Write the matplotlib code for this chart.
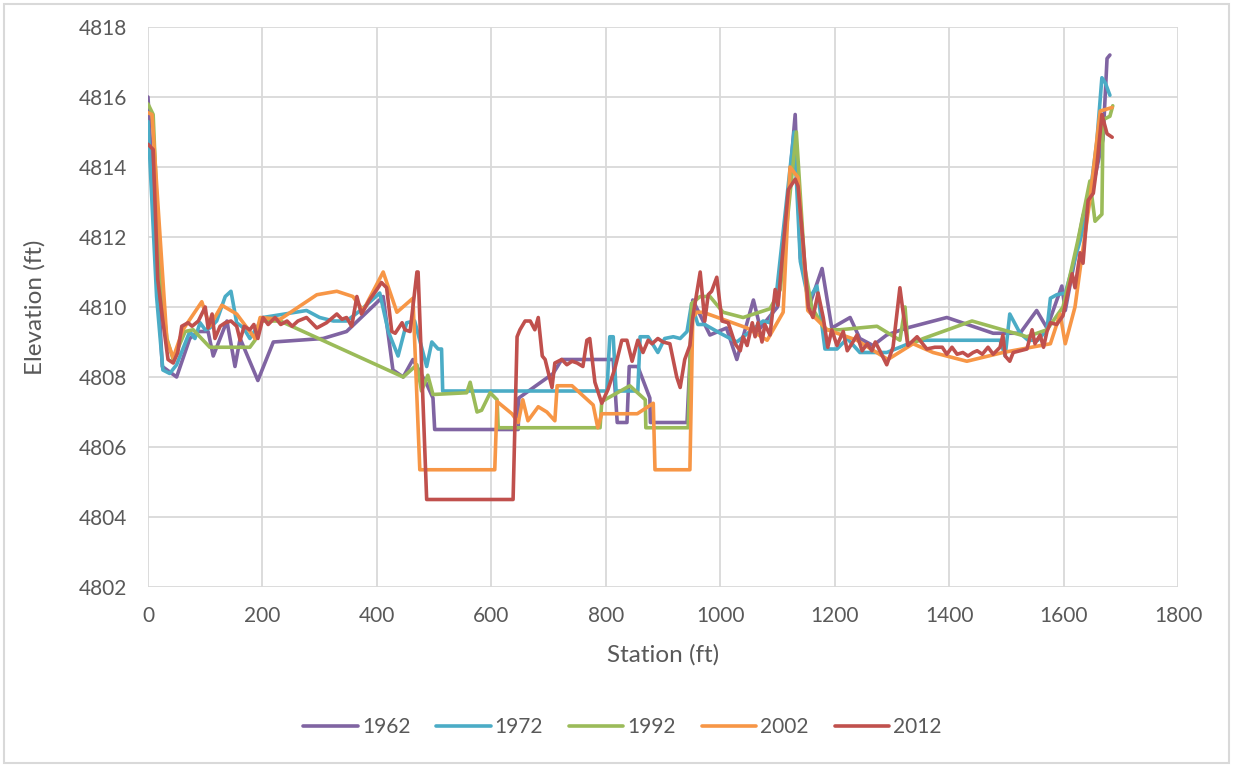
import matplotlib
matplotlib.use("Agg")
import matplotlib.pyplot as plt
from matplotlib.patches import Rectangle

plt.rcParams['font.family'] = ['Lato', 'DejaVu Sans']

# Cross-section surveys: station (ft) and elevation (ft) per survey year
st_1962 = [0, 25, 50, 73, 88, 105, 114, 138, 152, 161, 192, 219, 306, 347, 411, 428, 446, 463,
           487, 498, 501, 647, 648, 708, 723, 813, 820, 837, 841, 856, 877, 878, 942, 952, 982,
           1011, 1029, 1058, 1070, 1100, 1118, 1131, 1140, 1157, 1178, 1195, 1227, 1244, 1267,
           1291, 1326, 1396, 1477, 1524, 1553, 1571, 1597, 1603, 1634, 1652, 1669, 1676, 1681]
el_1962 = [4816.0, 4808.3, 4808.0, 4809.1, 4809.3, 4809.3, 4808.6, 4809.6, 4808.3, 4809.1,
           4807.9, 4809.0, 4809.1, 4809.3, 4810.3, 4808.2, 4808.0, 4808.5, 4807.8, 4807.4,
           4806.5, 4806.5, 4807.4, 4808.1, 4808.5, 4808.5, 4806.7, 4806.7, 4808.3, 4808.3,
           4807.4, 4806.7, 4806.7, 4810.2, 4809.2, 4809.4, 4808.5, 4810.2, 4809.4, 4810.0,
           4813.0, 4815.5, 4811.4, 4810.1, 4811.1, 4809.4, 4809.7, 4809.1, 4808.9, 4809.2,
           4809.4, 4809.7, 4809.25, 4809.25, 4809.9, 4809.4, 4810.6, 4809.9, 4812.6, 4813.5,
           4814.8, 4817.1, 4817.2]

st_1972 = [0, 15, 26, 38, 50, 73, 82, 91, 100, 108, 120, 135, 145, 155, 167, 178, 201, 277,
           300, 324, 347, 371, 405, 420, 437, 452, 466, 487, 496, 507, 513, 515, 802, 807, 813,
           818, 856, 860, 874, 891, 903, 918, 930, 942, 950, 961, 973, 1000, 1029, 1075, 1087,
           1099, 1129, 1140, 1154, 1169, 1183, 1204, 1222, 1244, 1291, 1314, 1344, 1442, 1466,
           1489, 1498, 1506, 1524, 1538, 1555, 1571, 1577, 1588, 1603, 1629, 1643, 1658, 1667,
           1673, 1681]
el_1972 = [4815.3, 4810.3, 4808.2, 4808.1, 4808.35, 4809.3, 4809.1, 4809.55, 4809.35, 4809.4,
           4809.6, 4810.3, 4810.45, 4809.55, 4809.4, 4809.1, 4809.7, 4809.9, 4809.7, 4809.6,
           4809.6, 4809.9, 4810.4, 4809.3, 4808.6, 4809.55, 4809.6, 4808.3, 4809.0, 4808.8,
           4808.8, 4807.6, 4807.6, 4809.15, 4809.15, 4807.6, 4807.6, 4809.15, 4809.15, 4808.7,
           4809.1, 4809.15, 4809.1, 4809.3, 4810.1, 4809.5, 4809.5, 4809.25, 4809.0, 4809.6,
           4809.55, 4810.5, 4815.0, 4811.3, 4810.2, 4810.6, 4808.8, 4808.8, 4809.1, 4808.7,
           4808.7, 4808.85, 4809.05, 4809.05, 4809.05, 4809.05, 4808.6, 4809.8, 4809.25,
           4809.05, 4809.05, 4809.35, 4810.25, 4810.35, 4810.4, 4811.9, 4812.8, 4814.7,
           4816.55, 4816.4, 4816.05]

st_1992 = [0, 9, 21, 33, 44, 65, 79, 108, 178, 187, 199, 231, 446, 470, 478, 489, 498, 557,
           563, 575, 583, 598, 610, 612, 790, 793, 842, 869, 870, 944, 950, 965, 982, 1005,
           1040, 1087, 1105, 1133, 1148, 1160, 1183, 1209, 1274, 1314, 1323, 1328, 1355, 1440,
           1536, 1571, 1599, 1625, 1646, 1655, 1667, 1669, 1681, 1686]
el_1992 = [4815.8, 4815.5, 4810.8, 4809.1, 4808.5, 4809.3, 4809.35, 4808.85, 4808.85, 4809.05,
           4809.6, 4809.6, 4808.0, 4808.35, 4807.6, 4808.05, 4807.5, 4807.55, 4807.85, 4807.0,
           4807.05, 4807.55, 4807.35, 4806.55, 4806.55, 4807.3, 4807.75, 4807.35, 4806.55,
           4806.55, 4810.1, 4810.3, 4810.3, 4809.85, 4809.7, 4809.95, 4810.5, 4815.0, 4811.1,
           4810.0, 4809.35, 4809.35, 4809.45, 4809.05, 4810.0, 4808.9, 4809.1, 4809.6, 4809.15,
           4809.35, 4810.0, 4811.9, 4813.6, 4812.45, 4812.65, 4815.35, 4815.45, 4815.75]

st_2002 = [0, 7, 33, 44, 61, 94, 108, 129, 155, 187, 196, 231, 295, 330, 358, 376, 411, 435,
           463, 475, 606, 610, 636, 647, 655, 664, 682, 697, 711, 715, 741, 778, 786, 793, 855,
           883, 886, 947, 952, 959, 970, 1047, 1082, 1110, 1122, 1136, 1153, 1187, 1239, 1293,
           1337, 1372, 1431, 1494, 1577, 1594, 1603, 1620, 1632, 1646, 1664, 1685]
el_2002 = [4815.55, 4815.5, 4809.05, 4808.55, 4809.35, 4810.15, 4809.45, 4810.05, 4809.8,
           4809.1, 4809.7, 4809.65, 4810.35, 4810.45, 4810.3, 4809.9, 4811.0, 4809.85, 4810.25,
           4805.35, 4805.35, 4807.3, 4806.95, 4806.7, 4807.35, 4806.75, 4807.15, 4807.0,
           4806.75, 4807.75, 4807.75, 4807.2, 4806.55, 4806.95, 4806.95, 4807.25, 4805.35,
           4805.35, 4809.7, 4809.85, 4809.85, 4809.4, 4809.05, 4809.85, 4814.0, 4813.7, 4809.9,
           4809.35, 4809.05, 4808.5, 4808.95, 4808.7, 4808.45, 4808.7, 4808.95, 4809.8, 4808.95,
           4810.0, 4811.45, 4813.05, 4815.6, 4815.7]

st_2012 = [0, 9, 17, 26, 35, 44, 52, 59, 70, 77,
           88, 100, 105, 112, 117, 126, 135, 145, 155, 161,
           168, 178, 185, 192, 201, 210, 222, 232, 243, 252,
           262, 277, 286, 295, 312, 330, 339, 347, 356, 365,
           373, 387, 400, 408, 417, 426, 432, 444, 449, 458,
           470, 472, 487, 638, 645, 650, 659, 668, 676, 682,
           689, 694, 706, 711, 723, 732, 741, 750, 760, 767,
           772, 781, 793, 804, 816, 828, 837, 846, 856, 865,
           874, 881, 891, 900, 912, 924, 930, 938, 947, 952,
           965, 973, 979, 985, 994, 1003, 1014, 1026, 1035, 1040,
           1047, 1056, 1061, 1066, 1073, 1078, 1087, 1096, 1101, 1119,
           1131, 1136, 1145, 1154, 1162, 1171, 1180, 1188, 1195, 1204,
           1215, 1222, 1230, 1239, 1248, 1257, 1265, 1271, 1279, 1291,
           1302, 1314, 1320, 1328, 1344, 1361, 1375, 1388, 1396, 1405,
           1414, 1424, 1433, 1442, 1449, 1458, 1468, 1477, 1489, 1494,
           1498, 1506, 1512, 1524, 1536, 1545, 1550, 1559, 1565, 1571,
           1577, 1588, 1599, 1608, 1615, 1620, 1629, 1634, 1643, 1652,
           1658, 1667, 1676, 1685]
el_2012 = [4814.65, 4814.5, 4810.8, 4809.6, 4808.5, 4808.4, 4808.7, 4809.45, 4809.55, 4809.45,
           4809.6, 4810.0, 4809.4, 4809.8, 4809.1, 4809.45, 4809.55, 4809.6, 4809.45, 4809.05,
           4809.45, 4809.35, 4809.5, 4809.1, 4809.7, 4809.5, 4809.7, 4809.5, 4809.6, 4809.45,
           4809.6, 4809.7, 4809.55, 4809.4, 4809.55, 4809.8, 4809.65, 4809.7, 4809.45, 4810.3,
           4809.8, 4810.2, 4810.5, 4810.7, 4810.55, 4809.3, 4809.25, 4809.55, 4809.35, 4809.3,
           4811.0, 4811.0, 4804.5, 4804.5, 4809.15, 4809.35, 4809.6, 4809.6, 4809.35, 4809.7,
           4808.6, 4808.5, 4807.7, 4808.4, 4808.5, 4808.35, 4808.45, 4808.4, 4808.3, 4809.05,
           4809.1, 4807.85, 4807.25, 4807.65, 4808.25, 4809.05, 4809.05, 4808.45, 4809.05, 4808.7,
           4809.05, 4808.95, 4809.1, 4809.0, 4808.95, 4808.0, 4807.7, 4808.5, 4808.9, 4809.7,
           4811.0, 4809.6, 4810.35, 4810.45, 4810.85, 4809.6, 4809.55, 4808.95, 4808.75, 4809.15,
           4808.9, 4809.55, 4809.15, 4809.55, 4809.0, 4809.5, 4809.2, 4810.5, 4810.05, 4813.35,
           4813.65, 4813.45, 4811.8, 4810.0, 4809.7, 4810.4, 4809.7, 4808.85, 4809.35, 4808.9,
           4809.3, 4808.75, 4808.95, 4809.2, 4808.75, 4808.95, 4808.75, 4809.0, 4808.75, 4808.35,
           4808.85, 4810.55, 4809.8, 4808.9, 4809.15, 4808.8, 4808.85, 4808.85, 4808.65, 4808.85,
           4808.65, 4808.7, 4808.6, 4808.7, 4808.75, 4808.65, 4808.85, 4808.65, 4808.85, 4809.2,
           4808.6, 4808.45, 4808.7, 4808.75, 4808.8, 4809.35, 4808.95, 4809.2, 4808.85, 4809.3,
           4809.55, 4809.5, 4809.75, 4810.45, 4810.95, 4810.55, 4811.55, 4811.25, 4813.05, 4813.25,
           4814.0, 4815.5, 4814.95, 4814.85]

years = ['1962', '1972', '1992', '2002', '2012']
stations = [st_1962, st_1972, st_1992, st_2002, st_2012]
elevations = [el_1962, el_1972, el_1992, el_2002, el_2012]
colors = ['#8064A2', '#4BACC6', '#9BBB59', '#F79646', '#C0504D']

x_ticks = [0, 200, 400, 600, 800, 1000, 1200, 1400, 1600, 1800]
y_ticks = [4802, 4804, 4806, 4808, 4810, 4812, 4814, 4816, 4818]

fig = plt.figure(figsize=(12.33, 7.67), dpi=100)
ax = fig.add_axes([148 / 1233, 1 - 587 / 767, (1178 - 148) / 1233, (587 - 27) / 767])

for yr, xs, ys, c in zip(years, stations, elevations, colors):
    ax.plot(xs, ys, color=c, lw=2.6, label=yr, solid_joinstyle='round', solid_capstyle='round')

ax.set_xlim(0, 1800)
ax.set_ylim(4802, 4818)
ax.set_xticks(x_ticks)
ax.set_yticks(y_ticks)
ax.set_xticklabels([str(v) for v in x_ticks])
ax.set_yticklabels([str(v) for v in y_ticks])
ax.grid(True, color='#D9D9D9', lw=1.3)
ax.set_axisbelow(True)
for s in ax.spines.values():
    s.set_visible(False)
ax.tick_params(length=0, labelsize=15, colors='#595959')
ax.tick_params(axis='y', pad=15)
ax.tick_params(axis='x', pad=14)

ax.set_xlabel('Station (ft)', fontsize=17.5, color='#595959', labelpad=13)
ax.set_ylabel('Elevation (ft)', fontsize=17.5, color='#595959', labelpad=24)

fig.legend(loc='center', bbox_to_anchor=(0.505, 0.052), ncol=5, frameon=False,
           fontsize=15, handlelength=2.6, handletextpad=0.2, columnspacing=1.25,
           labelcolor='#595959')

fig.patches.append(Rectangle((4 / 1233, 4 / 767), 1 - 8 / 1233, 1 - 8 / 767,
                             transform=fig.transFigure, fill=False,
                             edgecolor='#D9D9D9', lw=1.5))

fig.savefig('out.png', dpi=100, facecolor='white')
